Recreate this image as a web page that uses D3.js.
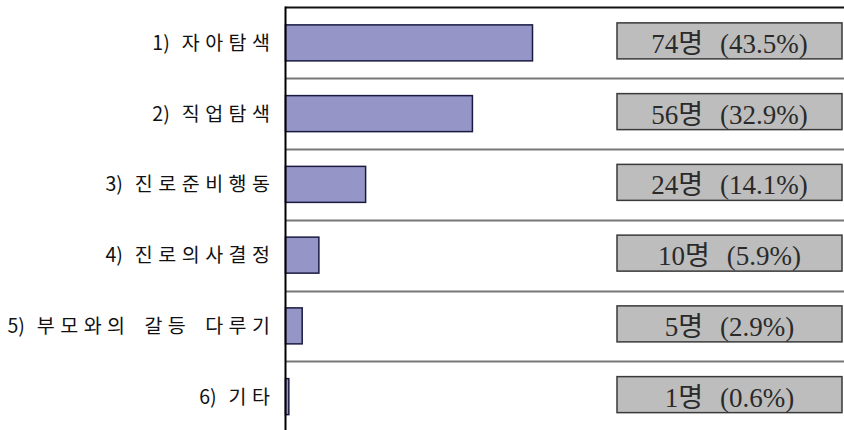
<!DOCTYPE html>
<html>
<head>
<meta charset="utf-8">
<script src="https://cdn.jsdelivr.net/npm/d3@7"></script>
<style>
  body { margin: 0; background: #fff; }
  svg { display: block; }
</style>
</head>
<body>
<div id="chart"></div>
<script>
const width = 844;
const height = 430;

// data
const categories = ["1) 자아탐색", "2) 직업탐색", "3) 진로준비행동", "4) 진로의사결정", "5) 부모와의 갈등 다루기", "6) 기타"];
const counts = [74, 56, 24, 10, 5, 1];
const percents = ["43.5", "32.9", "14.1", "5.9", "2.9", "0.6"];

const axisX = 285.5;
const plotTop = 7.5;
const rowH = 70.75;

const svg = d3.select("#chart")
    .append("svg")
    .attr("width", width)
    .attr("height", height);

const y = d3.scaleBand()
    .domain(categories)
    .range([plotTop, plotTop + rowH * categories.length])
    .padding(0);

const x = d3.scaleLinear()
    .domain([0, 74])
    .range([axisX, 532.5]);

const barH = 36;

// row separators
svg.selectAll(".sep")
    .data(categories.slice(1))
    .join("line")
    .attr("x1", axisX)
    .attr("x2", width)
    .attr("y1", d => Math.round(y(d)) + 0.5)
    .attr("y2", d => Math.round(y(d)) + 0.5)
    .attr("stroke", "#777")
    .attr("stroke-width", 2);

// top line
svg.append("line")
    .attr("x1", axisX)
    .attr("x2", width)
    .attr("y1", plotTop)
    .attr("y2", plotTop)
    .attr("stroke", "#111")
    .attr("stroke-width", 2);

// bars
svg.selectAll(".bar")
    .data(categories)
    .join("rect")
    .attr("x", axisX)
    .attr("y", d => y(d) + (y.bandwidth() - barH) / 2)
    .attr("width", (d, i) => x(counts[i]) - axisX)
    .attr("height", barH)
    .attr("fill", "#9595c8")
    .attr("stroke", "#1a1a40")
    .attr("stroke-width", 1.5);

// vertical axis line
svg.append("line")
    .attr("x1", axisX)
    .attr("x2", axisX)
    .attr("y1", plotTop - 1)
    .attr("y2", height)
    .attr("stroke", "#000")
    .attr("stroke-width", 2);

// category labels: number prefix tight, hangul part spaced out
const spacing = 5.5;
const catText = svg.selectAll(".cat")
    .data(categories)
    .join("text")
    .attr("x", 270 + spacing)
    .attr("y", d => y(d) + y.bandwidth() / 2)
    .attr("dy", "0.36em")
    .attr("text-anchor", "end")
    .style("font-family", "'Noto Sans CJK KR', 'Noto Sans', sans-serif")
    .style("font-size", "19.5px")
    .style("fill", "#111");

catText.append("tspan")
    .text(d => d.slice(0, d.indexOf(" ")));

catText.append("tspan")
    .attr("dx", 12)
    .style("letter-spacing", spacing + "px")
    .style("word-spacing", "4px")
    .text(d => d.slice(d.indexOf(" ") + 1));

// value boxes
const boxH = 36;
svg.selectAll(".box")
    .data(categories)
    .join("rect")
    .attr("x", 617)
    .attr("y", d => y(d) + (y.bandwidth() - boxH) / 2 - 2)
    .attr("width", 225)
    .attr("height", boxH)
    .attr("fill", "#bdbdbd")
    .attr("stroke", "#3a3a3a")
    .attr("stroke-width", 1.5);

svg.selectAll(".val")
    .data(categories)
    .join("text")
    .attr("x", 729.5)
    .attr("y", d => y(d) + y.bandwidth() / 2 + 10)
    .attr("text-anchor", "middle")
    .style("font-family", "'Liberation Serif', 'Noto Sans CJK KR', serif")
    .style("font-size", "27px")
    .style("word-spacing", "10px")
    .style("fill", "#2a2a2a")
    .text((d, i) => `${counts[i]}명 (${percents[i]}%)`);
</script>
</body>
</html>
